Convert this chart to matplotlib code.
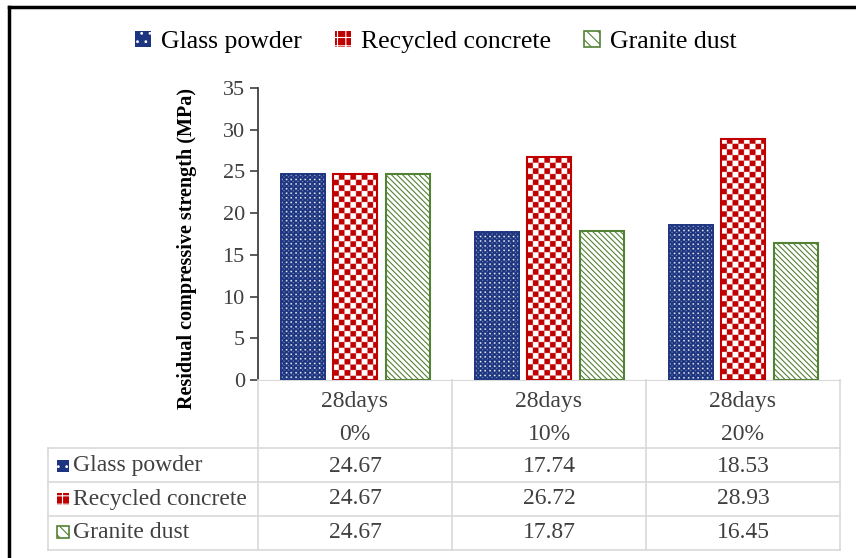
import numpy as np
import matplotlib.pyplot as plt
import matplotlib.transforms as mtransforms
from matplotlib.patches import Patch, Rectangle
from matplotlib.lines import Line2D
from matplotlib.colors import LinearSegmentedColormap

plt.rcParams['font.family'] = ['Liberation Serif', 'DejaVu Serif']

# data
ages = ['28days', '28days', '28days']
replacement = ['0%', '10%', '20%']
series = ['Glass powder', 'Recycled concrete', 'Granite dust']
glass_powder = [24.67, 17.74, 18.53]
recycled_concrete = [24.67, 26.72, 28.93]
granite_dust = [24.67, 17.87, 16.45]
values = [glass_powder, recycled_concrete, granite_dust]

navy = '#1D3580'
red = '#C00000'
green = '#548235'
txt = '#404040'
grid_c = '#D9D9D9'

W, H = 856, 558
fig = plt.figure(figsize=(W / 100, H / 100), dpi=100)


def fx(x):
    return x / W


def fy(y):
    return 1 - y / H


ax = fig.add_axes([fx(258), fy(380), fx(840) - fx(258), fy(88) - fy(380)])
ax.set_xlim(-0.5, 2.5)
ax.set_ylim(0, 35)
ax_h_px = 292.0

x = np.arange(len(ages))
width = 0.228
offsets = [-0.27, 0.0, 0.275]


def pattern_image(bar, kind):
    # fill a bar with a pixel pattern (dots / checker), sized from the bar itself
    x0, w, h = bar.get_x(), bar.get_width(), bar.get_height()
    ss = 4
    wp = int(round(w * 194)) * ss
    hp = max(1, int(round(h * ax_h_px / 35))) * ss
    ii, jj = np.mgrid[0:hp, 0:wp] / ss
    if kind == 'dots':
        p = 4.6
        a = ((ii % p) < 1.5) & ((jj % p) < 1.5)
        b = (((ii + p / 2) % p) < 1.0) & (((jj + p / 2) % p) < 1.0)
        arr = np.where(a, 1.0, np.where(b, 0.55, 0.0))
        cmap = LinearSegmentedColormap.from_list('d', [navy, 'white'])
    else:
        cell = 5.6
        arr = ((np.floor(ii / cell) + np.floor(jj / cell)) % 2).astype(float)
        cmap = LinearSegmentedColormap.from_list('c', ['white', red])
    ax.imshow(arr, extent=(x0, x0 + w, 0, h), cmap=cmap, vmin=0, vmax=1,
              interpolation='antialiased', aspect='auto', origin='upper', zorder=2)


plt.rcParams['hatch.linewidth'] = 0.8
for k, (vals, off) in enumerate(zip(values, offsets)):
    if k == 0:
        bars = ax.bar(x + off, vals, width, facecolor=navy, edgecolor=navy, linewidth=1.2, zorder=1)
        for b in bars:
            pattern_image(b, 'dots')
        ax.bar(x + off, vals, width, fill=False, edgecolor=navy, linewidth=1.3, zorder=3)
    elif k == 1:
        bars = ax.bar(x + off, vals, width, facecolor='white', edgecolor=red, linewidth=1.2, zorder=1)
        for b in bars:
            pattern_image(b, 'checker')
        ax.bar(x + off, vals, width, fill=False, edgecolor=red, linewidth=1.5, zorder=3)
    else:
        ax.bar(x + off, vals, width, facecolor='white', edgecolor=green, hatch='\\\\\\\\\\\\',
               linewidth=1.5, zorder=3)

ax.set_xlim(-0.5, 2.5)
ax.set_ylim(0, 35)
ax.set_yticks(np.arange(0, 36, 5))
ax.set_xticks([])
ax.tick_params(axis='y', labelsize=16, labelcolor=txt, color='#404040', length=6, width=1.2)
for s in ['top', 'right']:
    ax.spines[s].set_visible(False)
ax.spines['bottom'].set_color(grid_c)
ax.spines['left'].set_color('#404040')
ax.spines['left'].set_linewidth(1.3)
ax.set_ylabel('Residual compressive strength (MPa)', fontsize=14.5, fontweight='bold',
              color='black')
ax.yaxis.set_label_coords(-(258 - 197) / 582, 0.45)


# legend / table icons
def icon(kind):
    with plt.rc_context({'hatch.color': 'white', 'hatch.linewidth': 1.0}):
        if kind == 0:
            return Patch(facecolor=navy, hatch='..')
        if kind == 1:
            return Patch(facecolor=red, hatch='++')
    return Patch(facecolor='white', edgecolor=green, hatch='\\\\\\', linewidth=1.2)


handles = [icon(k) for k in range(3)]
fig.legend(handles, series, loc='center', bbox_to_anchor=(fx(436), fy(42)), ncol=3,
           frameon=False, fontsize=18.5, handlelength=0.6, handleheight=0.6,
           handletextpad=0.4, columnspacing=1.3, borderaxespad=0)

# table under the axis
bt = mtransforms.blended_transform_factory(ax.transData, fig.transFigure)
ft = fig.transFigure
row_lines = [448, 482, 516, 550]
for yl in row_lines:
    fig.add_artist(Line2D([fx(48), fx(840)], [fy(yl), fy(yl)], color=grid_c, lw=1.2, transform=ft))
for xb in [-0.5, 0.5, 1.5, 2.5]:
    fig.add_artist(Line2D([xb, xb], [fy(380), fy(550)], color=grid_c, lw=1.2, transform=bt))
fig.add_artist(Line2D([fx(48), fx(48)], [fy(448), fy(550)], color=grid_c, lw=1.2, transform=ft))

for i in range(len(ages)):
    fig.text(x[i], fy(401), ages[i], transform=bt, ha='center', va='center', fontsize=17, color=txt)
    fig.text(x[i], fy(434), replacement[i], transform=bt, ha='center', va='center', fontsize=17, color=txt)

row_y = [466, 499, 532]
for k in range(3):
    p = icon(k)
    r = Rectangle((fx(57), fy(row_y[k] + 6)), fx(12), 12 / H, transform=ft)
    r.update_from(p)
    r.set_transform(ft)
    fig.add_artist(r)
    fig.text(fx(73), fy(row_y[k]), series[k], ha='left', va='center', fontsize=17, color=txt)
    for i in range(len(ages)):
        fig.text(x[i], fy(row_y[k]), f'{values[k][i]:.2f}', transform=bt, ha='center',
                 va='center', fontsize=17, color=txt)

# outer frame (left and top edges visible)
fig.add_artist(Line2D([fx(9), fx(9)], [fy(7), 0], color='black', lw=2.5, transform=ft))
fig.add_artist(Line2D([fx(9), 1], [fy(7), fy(7)], color='black', lw=2.5, transform=ft))

fig.savefig('out.png', dpi=100)
